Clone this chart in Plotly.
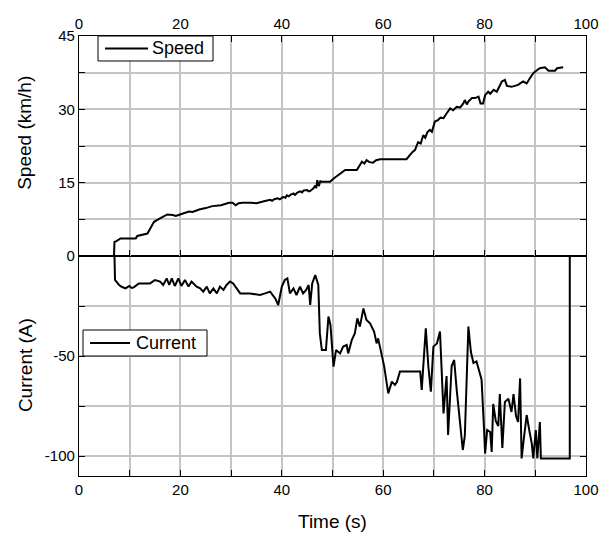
import plotly.graph_objects as go

# Vehicle speed trace (time in s, speed in km/h)
speed_time = [0, 6.9, 7.0, 7.3, 8.2, 11.2, 11.5, 13.5, 14.0, 14.8,
              15.8, 17.4, 18.5, 19.1, 20.2, 21.0, 21.7, 22.4, 23.2, 23.7,
              25.0, 26.3, 28.0, 29.6, 30.3, 30.9, 31.5, 32.2, 34.0, 35.0,
              36.5, 37.7, 38.1, 38.5, 39.2, 39.6, 40.3, 40.7, 41.0, 41.4,
              41.7, 42.3, 42.6, 43.0, 43.6, 44.0, 44.3, 45.0, 45.3, 45.6,
              46.2, 46.6, 46.8, 47.0, 47.3, 47.6, 47.9, 49.5, 50.3, 50.9,
              51.5, 52.0, 52.5, 54.8, 55.3, 55.8, 56.3, 56.7, 57.3, 58.0,
              58.6, 59.4, 64.6, 65.0, 65.3, 65.8, 66.3, 66.6, 66.9, 67.4,
              67.9, 68.3, 68.7, 69.2, 69.6, 70.2, 70.8, 71.3, 71.9, 72.4,
              73.2, 73.8, 74.5, 75.2, 75.8, 76.1, 76.5, 76.8, 77.5, 78.1,
              78.8, 79.2, 79.7, 80.1, 80.7, 81.1, 81.8, 82.4, 83.0, 83.4,
              84.0, 84.4, 85.3, 86.6, 87.6, 88.3, 88.9, 89.6, 90.3, 90.9,
              91.9, 92.6, 93.9, 94.3, 95.5]
speed_kmh = [0, 0, 2.9, 3.0, 3.6, 3.6, 4.1, 4.6, 5.5, 7.0,
             7.6, 8.5, 8.4, 8.2, 8.6, 8.8, 9.1, 9.0, 9.4, 9.5,
             9.8, 10.2, 10.4, 10.9, 10.9, 10.4, 10.8, 10.9, 10.9, 10.8,
             11.2, 11.5, 11.3, 11.6, 11.8, 11.6, 12.1, 11.9, 12.4, 12.2,
             12.5, 12.8, 12.5, 12.9, 13.2, 13.0, 13.4, 13.5, 13.2, 13.3,
             13.8, 14.4, 13.9, 15.5, 14.3, 15.3, 15.2, 15.2, 15.9, 16.4,
             16.9, 17.3, 17.6, 17.6, 18.6, 19.3, 18.9, 19.6, 19.2, 19.1,
             19.6, 19.8, 19.8, 20.4, 20.7, 21.3, 21.7, 22.6, 23.3, 23.0,
             24.7, 24.2, 25.3, 25.8, 25.4, 27.5, 27.8, 28.3, 28.2, 29.0,
             30.2, 29.8, 30.5, 30.4, 31.2, 31.9, 31.0, 31.6, 32.3, 32.3,
             32.6, 31.2, 31.2, 32.9, 33.6, 33.2, 34.0, 33.6, 35.0, 35.7,
             36.0, 34.8, 34.6, 35.0, 35.7, 35.3, 36.3, 37.4, 38.0, 38.4,
             38.6, 37.9, 37.9, 38.4, 38.6]

# Motor current trace (time in s, current in A)
current_time = [0, 7.0, 7.1, 7.9, 8.5, 9.2, 9.9, 10.4, 10.8, 11.8,
                14.0, 15.0, 16.0, 16.6, 17.3, 17.8, 18.3, 18.9, 19.6, 20.2,
                20.9, 21.6, 22.2, 23.2, 23.9, 24.5, 25.2, 25.8, 26.5, 27.2,
                27.8, 28.5, 29.1, 29.8, 30.4, 31.1, 31.8, 33.7, 35.7, 36.7,
                37.7, 38.7, 39.3, 40.0, 40.6, 41.1, 41.6, 42.3, 42.9, 43.6,
                44.2, 44.8, 45.3, 45.6, 46.0, 46.6, 47.2, 47.5, 47.9, 48.7,
                49.2, 49.6, 50.2, 50.7, 51.5, 52.1, 52.8, 53.1, 53.8, 54.4,
                54.9, 55.4, 56.1, 56.7, 57.4, 58.2, 58.7, 59.0, 59.7, 60.2,
                61.0, 61.7, 62.3, 62.7, 63.3, 67.3, 67.6, 68.0, 68.4, 68.9,
                69.4, 69.9, 70.6, 71.2, 71.5, 71.9, 72.5, 72.8, 73.5, 74.0,
                74.5, 75.0, 75.7, 76.1, 76.5, 76.8, 77.3, 77.8, 78.4, 79.0,
                79.4, 79.9, 80.1, 80.5, 81.1, 81.4, 81.7, 82.2, 82.7, 83.0,
                83.5, 84.0, 84.7, 85.3, 85.7, 86.2, 86.6, 87.0, 87.3, 87.8,
                88.3, 88.8, 89.3, 89.6, 90.1, 90.4, 90.9, 91.1, 96.8, 96.8,
                100]
current_a = [0, 0, -12, -14.5, -15.5, -16.2, -15, -16, -15.7, -13.7,
             -13.7, -12, -12.8, -14.5, -11.2, -14.5, -11.2, -15, -11.2, -15,
             -12, -15.3, -12.8, -15.3, -16.2, -17.8, -15.3, -18.7, -16.2, -18.7,
             -15.3, -17, -14.5, -12.8, -13.7, -16.2, -18.7, -18.7, -19.5, -18.7,
             -17.8, -21.2, -24.5, -15.3, -12, -11.2, -18.7, -16.2, -19.5, -15.3,
             -18.7, -17, -14.5, -24.5, -13.7, -9.5, -14.5, -38.7, -47, -47,
             -30.3, -34.5, -55.3, -47, -48.7, -45.3, -44.5, -48.7, -42, -38.7,
             -31.2, -35.3, -26.2, -32, -33.7, -37.8, -43.7, -41.2, -50, -55.3,
             -68.7, -62.8, -64.5, -63, -57.8, -57.8, -67, -50.3, -36.2, -55,
             -67.8, -45.3, -43.7, -37.8, -58.3, -78.7, -60, -89.5, -55, -52,
             -67, -80, -97, -90, -57.8, -35.3, -48, -53.5, -52.7, -58.3,
             -61.7, -87, -98.7, -87, -88, -98, -74, -82.5, -85, -69,
             -96, -73, -71.3, -78, -69, -80, -83, -61.2, -101.2, -90,
             -79.5, -87, -93.7, -101.2, -87, -101.2, -83, -101.2, -101.2, 0,
             0]

time_ticks = list(range(0, 101, 10))
time_labels = [str(v) if v % 20 == 0 else "" for v in time_ticks]
speed_ticks = [0, 7.5, 15, 22.5, 30, 37.5, 45]
speed_labels = ["", "", "15", "", "30", "", "45"]
current_ticks = [-100, -75, -50, -25, 0]
current_labels = ["-100", "", "-50", "", "0"]

FONT = "Liberation Sans, Arial, sans-serif"
GRID = "#c4c4c4"
LINE_W = 2.0

fig = go.Figure()
fig.add_trace(go.Scatter(x=speed_time, y=speed_kmh, mode="lines", name="Speed",
                         line=dict(color="black", width=LINE_W),
                         xaxis="x2", yaxis="y2", showlegend=False))
fig.add_trace(go.Scatter(x=current_time, y=current_a, mode="lines", name="Current",
                         line=dict(color="black", width=LINE_W),
                         xaxis="x", yaxis="y", showlegend=False))

common_axis = dict(showline=True, linecolor="black", linewidth=1.3,
                   ticks="inside", ticklen=6, tickwidth=1.3, tickcolor="black",
                   showgrid=True, gridcolor=GRID, gridwidth=1.5, zeroline=False,
                   tickfont=dict(family=FONT, size=15, color="black"))


def legend_box(x0, x1, y0, y1, line_x0, line_x1, text_x, label):
    """Framed legend key: white box, short line sample and label (paper coords)."""
    ymid = (y0 + y1) / 2
    shapes = [
        dict(type="rect", xref="paper", yref="paper", x0=x0, x1=x1, y0=y0, y1=y1,
             line=dict(color="black", width=1), fillcolor="white", layer="above"),
        dict(type="line", xref="paper", yref="paper", x0=line_x0, x1=line_x1,
             y0=ymid, y1=ymid, line=dict(color="black", width=LINE_W), layer="above"),
    ]
    ann = dict(text=label, xref="paper", yref="paper", x=text_x, y=ymid,
               xanchor="left", yanchor="middle", showarrow=False,
               font=dict(family=FONT, size=18, color="black"))
    return shapes, ann


s_shapes, s_ann = legend_box(0.0375, 0.2643, 0.9432, 1.0, 0.0513, 0.1361, 0.140, "Speed")
c_shapes, c_ann = legend_box(0.0079, 0.2525, 0.2727, 0.3318, 0.0217, 0.1006, 0.108, "Current")

fig.update_layout(
    width=611, height=535,
    margin=dict(l=79, r=25, t=36, b=59),
    paper_bgcolor="white", plot_bgcolor="white",
    font=dict(family=FONT, color="black"),
    showlegend=False,
    xaxis=dict(domain=[0, 1], anchor="y", range=[0, 100], side="bottom",
               tickmode="array", tickvals=time_ticks, ticktext=time_labels,
               mirror=True, **common_axis),
    xaxis2=dict(domain=[0, 1], anchor="y2", range=[0, 100], side="top",
                matches="x", tickmode="array", tickvals=time_ticks,
                ticktext=time_labels, mirror="ticks", **common_axis),
    yaxis=dict(domain=[0, 0.5], anchor="x", range=[-110, 0],
               tickmode="array", tickvals=current_ticks, ticktext=current_labels,
               mirror="ticks", **common_axis),
    yaxis2=dict(domain=[0.5, 1], anchor="x2", range=[0, 45],
                tickmode="array", tickvals=speed_ticks, ticktext=speed_labels,
                mirror="ticks", **common_axis),
    shapes=s_shapes + c_shapes,
    annotations=[
        s_ann, c_ann,
        dict(text="Speed (km/h)", xref="paper", yref="paper", x=-0.1065, y=0.78,
             xanchor="center", yanchor="middle", textangle=-90, showarrow=False,
             font=dict(family=FONT, size=19, color="black")),
        dict(text="Current (A)", xref="paper", yref="paper", x=-0.1065, y=0.252,
             xanchor="center", yanchor="middle", textangle=-90, showarrow=False,
             font=dict(family=FONT, size=19, color="black")),
        dict(text="Time (s)", xref="paper", yref="paper", x=0.5, y=-0.1045,
             xanchor="center", yanchor="middle", showarrow=False,
             font=dict(family=FONT, size=19, color="black")),
    ],
)

fig.write_html("out.html")
